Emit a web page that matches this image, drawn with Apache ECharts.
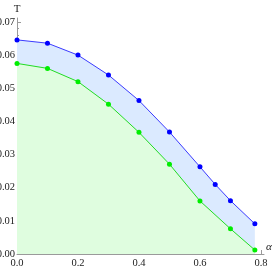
<!DOCTYPE html>
<html><head><meta charset="utf-8">
<script src="https://cdn.jsdelivr.net/npm/echarts@6/dist/echarts.min.js"></script>
<style>html,body{margin:0;padding:0;background:#fff}#c{width:273px;height:273px}</style>
</head><body><div id="c"></div>
<script>
var blueX = [0.0, 0.1, 0.2, 0.3, 0.4, 0.5, 0.6, 0.65, 0.7, 0.78];
var blueY = [0.0646, 0.0636, 0.0600, 0.0540, 0.0463, 0.0368, 0.0263, 0.0210, 0.0161, 0.0091];
var greenX = [0.0, 0.1, 0.2, 0.3, 0.4, 0.5, 0.6, 0.7, 0.78];
var greenY = [0.0575, 0.0560, 0.0520, 0.0452, 0.0367, 0.0271, 0.0160, 0.0076, 0.0012];
var xTicks = [0.0, 0.2, 0.4, 0.6, 0.8];
var yTicks = [0.00, 0.01, 0.02, 0.03, 0.04, 0.05, 0.06, 0.07];
var xMinorStep = 0.05, yMinorStep = 0.002;

function minors(maj, step, maxv) {
  var out = [];
  for (var v = 0; v <= maxv + 1e-9; v += step) {
    var r = Math.round(v * 10000) / 10000;
    if (maj.indexOf(r) < 0) out.push(r);
  }
  return out;
}
var X_MAX = 0.81, Y_MAX = 0.0712;
var axisCol = '#9a9a9a';
var font = {fontFamily: 'Liberation Serif', fontSize: 10.5, color: '#222'};

function pairs(xs, ys) { return xs.map(function (x, i) { return [x, ys[i]]; }); }

var chart = echarts.init(document.getElementById('c'), null, {renderer: 'canvas'});
chart.setOption({
  animation: false,
  grid: {left: 17, right: 9, top: 18, bottom: 19, containLabel: false, outerBoundsMode: 'none'},
  xAxis: [{
    type: 'value', min: 0, max: X_MAX, position: 'bottom',
    name: 'α', nameLocation: 'end', nameGap: 2,
    nameTextStyle: {fontFamily: 'Liberation Serif', fontSize: 11, fontStyle: 'italic', color: '#222', verticalAlign: 'bottom', padding: [0, 0, 1, 0]},
    axisLine: {show: true, lineStyle: {color: axisCol, width: 1}},
    axisTick: {show: true, inside: true, length: 4, customValues: xTicks, lineStyle: {color: axisCol}},
    axisLabel: {show: true, margin: 4, customValues: xTicks, formatter: function (v) { return v.toFixed(1); }, fontFamily: font.fontFamily, fontSize: font.fontSize, color: font.color},
    splitLine: {show: false}
  }, {
    type: 'value', min: 0, max: X_MAX, position: 'bottom', offset: 0,
    axisLine: {show: false},
    axisTick: {show: true, inside: true, length: 2, customValues: minors(xTicks, xMinorStep, 0.8), lineStyle: {color: axisCol}},
    axisLabel: {show: false}, splitLine: {show: false}
  }],
  yAxis: [{
    type: 'value', min: 0, max: Y_MAX, position: 'left',
    name: 'T', nameLocation: 'end', nameGap: 3,
    nameTextStyle: {fontFamily: 'Liberation Serif', fontSize: 11, color: '#222', align: 'center'},
    axisLine: {show: true, lineStyle: {color: axisCol, width: 1}},
    axisTick: {show: true, inside: true, length: 4, customValues: yTicks, lineStyle: {color: axisCol}},
    axisLabel: {show: true, margin: 2, customValues: yTicks, formatter: function (v) { return v.toFixed(2); }, fontFamily: font.fontFamily, fontSize: font.fontSize, color: font.color},
    splitLine: {show: false}
  }, {
    type: 'value', min: 0, max: Y_MAX, position: 'left', offset: 0,
    axisLine: {show: false},
    axisTick: {show: true, inside: true, length: 2, customValues: minors(yTicks, yMinorStep, 0.07), lineStyle: {color: axisCol}},
    axisLabel: {show: false}, splitLine: {show: false}
  }],
  series: [{
    type: 'line', xAxisIndex: 0, yAxisIndex: 0, z: 2,
    data: pairs(blueX, blueY),
    symbol: 'circle', symbolSize: 5, showSymbol: true,
    lineStyle: {color: '#3a3aff', width: 1},
    itemStyle: {color: '#0000ff'},
    areaStyle: {color: 'rgb(219,234,255)', opacity: 1, origin: 'start'}
  }, {
    type: 'line', xAxisIndex: 0, yAxisIndex: 0, z: 3,
    data: pairs(greenX, greenY),
    symbol: 'circle', symbolSize: 5, showSymbol: true,
    lineStyle: {color: '#22dd22', width: 1},
    itemStyle: {color: '#00ee00'},
    areaStyle: {color: 'rgb(223,253,223)', opacity: 1, origin: 'start'}
  }]
});
</script></body></html>
